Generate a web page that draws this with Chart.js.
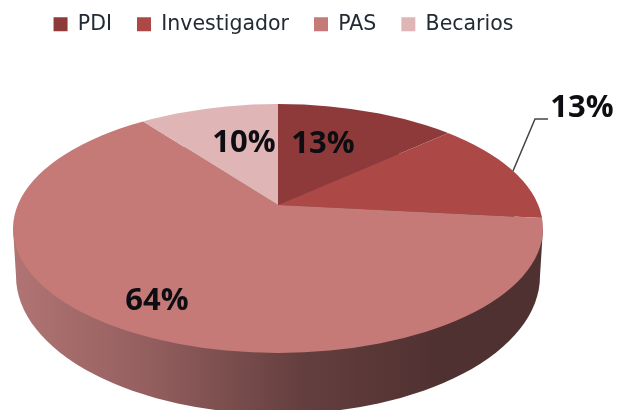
<!DOCTYPE html>
<html lang="es">
<head>
<meta charset="utf-8">
<title>Personal</title>
<style>
  html, body { margin: 0; padding: 0; background: #fff; overflow: hidden; }
  canvas { display: block; }
</style>
</head>
<body>
<canvas id="pieChart" width="617" height="410"></canvas>
<script src="https://cdn.jsdelivr.net/npm/chart.js@4"></script>
<script>
const categories = ['PDI', 'Investigador', 'PAS', 'Becarios'];
const percentages = [13, 13, 64, 10];
const sliceColors = ['#8f3a3a', '#ac4845', '#c57a78', '#dfb5b5'];

// Look of the tilted disc, in page pixels
const disc = { cx: 278, cy: 228.5, rx: 265, ry: 124.5, apexX: 278, apexY: 205 };
const discBase = { cx: 278, cy: 276, rx: 262, ry: 138 };
const reach = 360;
const squashTop = 0.45;
const squashBottom = 0.78;

// Where each percentage sits (centre of the text)
const labelSpots = [[323, 144], [582, 108], [157, 301], [244, 143]];

function ellipsePath(ctx, e) {
    ctx.beginPath();
    ctx.ellipse(e.cx, e.cy, e.rx, e.ry, 0, 0, Math.PI * 2);
}

function drawWall(ctx) {
    const grad = ctx.createLinearGradient(disc.cx - disc.rx, 0, disc.cx + disc.rx, 0);
    grad.addColorStop(0, '#b17474');
    grad.addColorStop(0.25, '#955f5f');
    grad.addColorStop(0.54, '#653f3f');
    grad.addColorStop(0.8, '#503131');
    grad.addColorStop(1, '#503131');
    ctx.fillStyle = grad;
    ellipsePath(ctx, discBase);
    ctx.fill();
    ctx.beginPath();
    ctx.moveTo(disc.cx - disc.rx, disc.cy);
    ctx.lineTo(disc.cx + disc.rx, disc.cy);
    ctx.lineTo(discBase.cx + discBase.rx, discBase.cy);
    ctx.lineTo(discBase.cx - discBase.rx, discBase.cy);
    ctx.closePath();
    ctx.fill();
}

// Draw the library's arcs squashed about the apex, one half at a time
function drawHalf(ctx, arcs, y, h, squash) {
    ctx.save();
    ellipsePath(ctx, disc);
    ctx.clip();
    ctx.beginPath();
    ctx.rect(0, y, 617, h);
    ctx.clip();
    arcs.forEach(arc => {
        const s = reach / arc.outerRadius;
        ctx.save();
        ctx.translate(disc.apexX, disc.apexY);
        ctx.scale(s, s * squash);
        ctx.translate(-arc.x, -arc.y);
        arc.draw(ctx);
        ctx.restore();
    });
    ctx.restore();
}

const tiltedPie = {
    id: 'tiltedPie',
    beforeDatasetDraw(chart, args) {
        const ctx = chart.ctx;
        const arcs = chart.getDatasetMeta(args.index).data;
        drawWall(ctx);
        drawHalf(ctx, arcs, 0, disc.apexY, squashTop);
        drawHalf(ctx, arcs, disc.apexY, 410 - disc.apexY, squashBottom);
        return false;
    },
    afterDatasetsDraw(chart) {
        const ctx = chart.ctx;
        ctx.save();
        // leader line of the outer label
        ctx.strokeStyle = '#444';
        ctx.lineWidth = 1.5;
        ctx.beginPath();
        ctx.moveTo(513, 171);
        ctx.lineTo(535, 119);
        ctx.lineTo(548, 119);
        ctx.stroke();

        ctx.fillStyle = '#0d0d12';
        ctx.font = 'bold 31px "Open Sans"';
        ctx.textAlign = 'center';
        ctx.textBaseline = 'middle';
        percentages.forEach((v, i) => {
            ctx.fillText(v + '%', labelSpots[i][0], labelSpots[i][1]);
        });
        ctx.restore();
    }
};

new Chart(document.getElementById('pieChart'), {
    type: 'pie',
    data: {
        labels: categories,
        datasets: [{
            data: percentages,
            backgroundColor: sliceColors,
            borderWidth: 0
        }]
    },
    options: {
        responsive: false,
        animation: false,
        layout: { padding: { top: -11, right: 50 } },
        plugins: {
            tooltip: { enabled: false },
            legend: {
                position: 'top',
                labels: {
                    boxWidth: 14,
                    boxHeight: 14,
                    padding: 25,
                    color: '#222a33',
                    font: { family: '"DejaVu Sans"', size: 20.5 }
                }
            }
        }
    },
    plugins: [tiltedPie]
});
</script>
</body>
</html>
